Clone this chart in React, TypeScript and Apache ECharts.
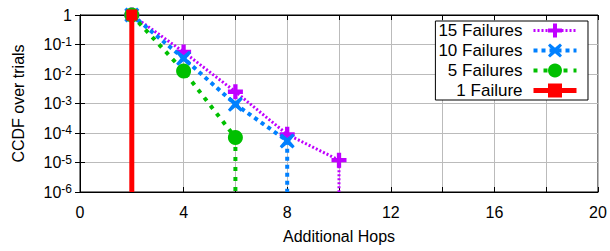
import React, { useEffect, useRef } from 'react';
import * as echarts from 'echarts';

const FLOOR = 1e-6;
const names = ['15 Failures', '10 Failures', '5 Failures', '1 Failure'];
const x15 = [2, 4, 6, 8, 10];
const y15 = [1, 0.056, 2.5e-3, 9e-5, 1.2e-5];
const x10 = [2, 4, 6, 8];
const y10 = [1, 0.034, 9.4e-4, 5.4e-5];
const x5 = [2, 4, 6];
const y5 = [1, 0.0126, 7e-5];
const x1 = [2];
const y1 = [1];
const xTicks = [0, 4, 8, 12, 16, 20];

const colors = ['#c000ff', '#0080ff', '#00c000', '#ff0000'];
const PLUS = 'path://M5,0H9V5H14V9H9V14H5V9H0V5H5Z';
const XSYM = 'path://M2,0L7,4.2L12,0L14,2L9.8,7L14,12L12,14L7,9.8L2,14L0,12L4.2,7L0,2Z';
const FONT = '"Liberation Sans", Arial, Helvetica, sans-serif';

function build(xs: number[], ys: number[]) {
  const d: any[] = xs.map((x, i) => ({ value: [x, ys[i]] }));
  d.push({ value: [xs[xs.length - 1], FLOOR], symbol: 'none' });
  return d;
}

export default function App() {
  const ref = useRef<HTMLDivElement>(null);
  useEffect(() => {
    const chart = echarts.init(ref.current!, null, { renderer: 'svg' });
    const sets = [
      [x15, y15],
      [x10, y10],
      [x5, y5],
      [x1, y1],
    ];
    const styles = [
      { width: 3, type: [2, 2], symbol: PLUS, size: 15 },
      { width: 4, type: [4, 4], symbol: XSYM, size: 15 },
      { width: 4, type: [4, 6], symbol: 'circle', size: 15 },
      { width: 5, type: 'solid', symbol: 'rect', size: 11 },
    ];
    const series = sets.map((s, i) => ({
      name: names[i],
      type: 'line',
      data: build(s[0], s[1]),
      symbol: styles[i].symbol,
      symbolSize: styles[i].size,
      showAllSymbol: true,
      clip: true,
      z: 2 + i,
      itemStyle: { color: colors[i] },
      lineStyle: { color: colors[i], width: styles[i].width, type: styles[i].type as any, cap: 'butt' },
    }));
    const tickLabel = { color: '#000', fontSize: 16, fontFamily: FONT };
    chart.setOption({
      animation: false,
      grid: { left: 80, right: 12, top: 15, bottom: 59, show: true, borderColor: '#000', borderWidth: 1 },
      legend: {
        orient: 'vertical',
        align: 'right',
        right: 22,
        top: 21,
        data: names,
        itemWidth: 43,
        itemHeight: 17.5,
        itemGap: 3,
        padding: [1, 9, 1, 3],
        backgroundColor: '#fff',
        borderColor: '#000',
        borderWidth: 1,
        borderRadius: 0,
        lineStyle: { width: 'inherit' as any },
        textStyle: { color: '#000', fontSize: 17, fontFamily: FONT, padding: [0, 6, 0, 0], lineHeight: 17 },
      },
      xAxis: [
        {
          type: 'value', min: 0, max: 20, interval: 2,
          name: 'Additional Hops', nameLocation: 'middle', nameGap: 36,
          nameTextStyle: { color: '#000', fontSize: 16, fontFamily: FONT },
          axisLine: { lineStyle: { color: '#000' } },
          axisTick: { inside: true, length: 5, lineStyle: { color: '#000' } },
          axisLabel: { ...tickLabel, margin: 12, formatter: (v: number) => (xTicks.includes(v) ? String(v) : '') },
          splitLine: { show: true, lineStyle: { color: '#bbb', width: 1 } },
        },
        {
          type: 'value', min: 0, max: 20, interval: 2, position: 'top',
          axisLine: { lineStyle: { color: '#000' } },
          axisTick: { inside: true, length: 5, lineStyle: { color: '#000' } },
          axisLabel: { show: false }, splitLine: { show: false },
        },
      ],
      yAxis: [
        {
          type: 'log', logBase: 10, min: FLOOR, max: 1, interval: 1,
          name: 'CCDF over trials', nameLocation: 'middle', nameGap: 54,
          nameTextStyle: { color: '#000', fontSize: 16, fontFamily: FONT },
          axisLine: { show: true, lineStyle: { color: '#000' } },
          axisTick: { show: true, inside: true, length: 5, lineStyle: { color: '#000' } },
          axisLabel: {
            margin: 8,
            formatter: (v: number) => {
              const e = Math.round(Math.log10(v));
              return e === 0 ? '{b|1}' : `{b|10}{s|${e}}`;
            },
            rich: {
              b: { ...tickLabel, lineHeight: 18 },
              s: { color: '#000', fontSize: 12, fontFamily: FONT, verticalAlign: 'top', lineHeight: 18, padding: [0, 0, 6, 0] },
            },
          },
          splitLine: { show: true, lineStyle: { color: '#bbb', width: 1 } },
        },
        {
          type: 'log', logBase: 10, min: FLOOR, max: 1, interval: 1, position: 'right',
          axisLine: { show: true, lineStyle: { color: '#000' } },
          axisTick: { show: true, inside: true, length: 5, lineStyle: { color: '#000' } },
          axisLabel: { show: false }, splitLine: { show: false },
        },
      ],
      series,
    });
    return () => chart.dispose();
  }, []);
  return <div ref={ref} style={{ width: 610, height: 251, position: 'absolute', left: 0, top: 0 }} />;
}
